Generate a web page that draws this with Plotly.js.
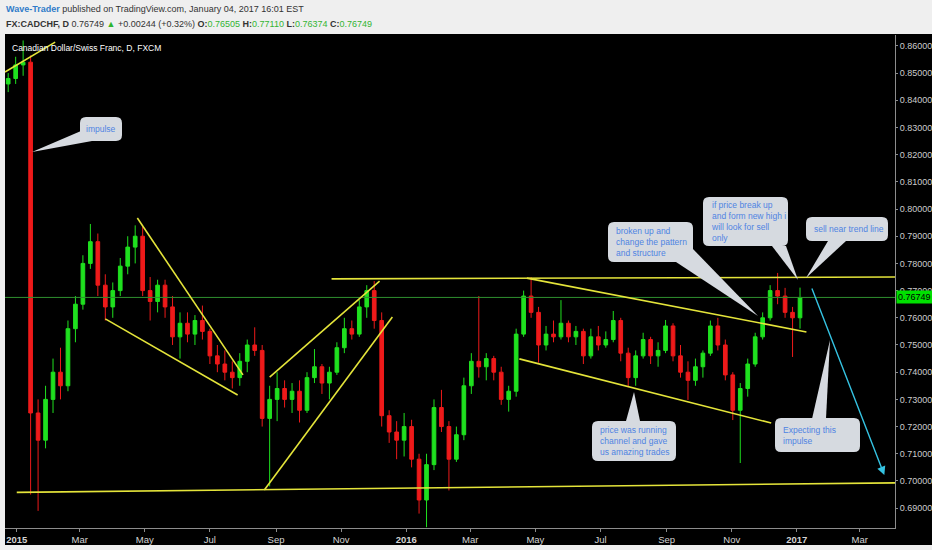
<!DOCTYPE html>
<html>
<head>
<meta charset="utf-8">
<script src="https://cdn.plot.ly/plotly-3.0.1.min.js"></script>
<style>html,body{margin:0;padding:0;background:#efefef;}#chart{width:932px;height:550px;}</style>
</head>
<body>
<div id="chart"></div>
<script>
// ---- Data (weekly OHLC, CADCHF daily chart) ----
const dates = ["2014-12-24","2014-12-31","2015-01-07","2015-01-14","2015-01-21","2015-01-28","2015-02-04","2015-02-11","2015-02-18","2015-02-25","2015-03-04","2015-03-11","2015-03-18","2015-03-25","2015-04-01","2015-04-08","2015-04-15","2015-04-22","2015-04-29","2015-05-06","2015-05-13","2015-05-20","2015-05-27","2015-06-03","2015-06-10","2015-06-17","2015-06-24","2015-07-01","2015-07-08","2015-07-15","2015-07-22","2015-07-29","2015-08-05","2015-08-12","2015-08-19","2015-08-26","2015-09-02","2015-09-09","2015-09-16","2015-09-23","2015-09-30","2015-10-07","2015-10-14","2015-10-21","2015-10-28","2015-11-04","2015-11-11","2015-11-18","2015-11-25","2015-12-02","2015-12-09","2015-12-16","2015-12-23","2015-12-30","2016-01-06","2016-01-13","2016-01-20","2016-01-27","2016-02-03","2016-02-10","2016-02-17","2016-02-24","2016-03-02","2016-03-09","2016-03-16","2016-03-23","2016-03-30","2016-04-06","2016-04-13","2016-04-20","2016-04-27","2016-05-04","2016-05-11","2016-05-18","2016-05-25","2016-06-01","2016-06-08","2016-06-15","2016-06-22","2016-06-29","2016-07-06","2016-07-13","2016-07-20","2016-07-27","2016-08-03","2016-08-10","2016-08-17","2016-08-24","2016-08-31","2016-09-07","2016-09-14","2016-09-21","2016-09-28","2016-10-05","2016-10-12","2016-10-19","2016-10-26","2016-11-02","2016-11-09","2016-11-16","2016-11-23","2016-11-30","2016-12-07","2016-12-14","2016-12-21","2016-12-28","2017-01-04"];
const open  = [0.8460,0.8480,0.8530,0.8540,0.7250,0.7150,0.7300,0.7400,0.7350,0.7560,0.7650,0.7800,0.7880,0.7720,0.7640,0.7700,0.7790,0.7860,0.7900,0.7700,0.7660,0.7720,0.7640,0.7530,0.7580,0.7540,0.7590,0.7550,0.7460,0.7430,0.7400,0.7380,0.7440,0.7500,0.7480,0.7230,0.7300,0.7340,0.7300,0.7330,0.7260,0.7380,0.7420,0.7360,0.7400,0.7490,0.7560,0.7540,0.7640,0.7700,0.7590,0.7240,0.7180,0.7150,0.7200,0.7080,0.6930,0.7060,0.7270,0.7200,0.7080,0.7170,0.7350,0.7440,0.7420,0.7450,0.7400,0.7300,0.7330,0.7540,0.7680,0.7620,0.7500,0.7540,0.7530,0.7580,0.7530,0.7550,0.7460,0.7530,0.7500,0.7520,0.7590,0.7470,0.7380,0.7460,0.7520,0.7460,0.7480,0.7570,0.7460,0.7400,0.7370,0.7420,0.7470,0.7570,0.7500,0.7390,0.7260,0.7340,0.7430,0.7530,0.7600,0.7700,0.7680,0.7620,0.7600];
const high  = [0.8500,0.8560,0.8620,0.8565,0.7300,0.7350,0.7450,0.7490,0.7590,0.7680,0.7830,0.7945,0.7910,0.7760,0.7730,0.7820,0.7900,0.7940,0.7935,0.7750,0.7740,0.7740,0.7680,0.7620,0.7620,0.7610,0.7645,0.7560,0.7500,0.7480,0.7440,0.7470,0.7520,0.7565,0.7500,0.7350,0.7400,0.7370,0.7360,0.7370,0.7400,0.7485,0.7430,0.7420,0.7510,0.7600,0.7590,0.7665,0.7720,0.7735,0.7620,0.7260,0.7220,0.7250,0.7225,0.7100,0.7100,0.7300,0.7335,0.7220,0.7200,0.7380,0.7470,0.7680,0.7470,0.7460,0.7420,0.7350,0.7560,0.7700,0.7750,0.7640,0.7570,0.7590,0.7665,0.7590,0.7570,0.7560,0.7560,0.7570,0.7550,0.7625,0.7600,0.7490,0.7480,0.7545,0.7530,0.7510,0.7592,0.7580,0.7500,0.7440,0.7450,0.7480,0.7590,0.7600,0.7520,0.7400,0.7360,0.7450,0.7545,0.7620,0.7720,0.7765,0.7710,0.7640,0.7711];
const low   = [0.8430,0.8460,0.8490,0.6950,0.6890,0.7120,0.7250,0.7300,0.7330,0.7510,0.7630,0.7780,0.7680,0.7590,0.7600,0.7680,0.7760,0.7800,0.7680,0.7590,0.7620,0.7600,0.7500,0.7450,0.7510,0.7500,0.7520,0.7430,0.7400,0.7370,0.7340,0.7350,0.7400,0.7460,0.7200,0.6980,0.7220,0.7270,0.7250,0.7215,0.7250,0.7360,0.7320,0.7300,0.7390,0.7470,0.7520,0.7530,0.7600,0.7560,0.7200,0.7140,0.7080,0.7090,0.7050,0.6880,0.6830,0.7040,0.7180,0.6965,0.7070,0.7150,0.7320,0.7380,0.7370,0.7370,0.7280,0.7255,0.7310,0.7530,0.7600,0.7435,0.7480,0.7510,0.7520,0.7510,0.7500,0.7430,0.7450,0.7480,0.7490,0.7510,0.7440,0.7345,0.7350,0.7450,0.7430,0.7420,0.7470,0.7440,0.7380,0.7298,0.7350,0.7380,0.7460,0.7480,0.7370,0.7224,0.7066,0.7310,0.7420,0.7520,0.7590,0.7650,0.7600,0.7456,0.7560];
const close = [0.8480,0.8530,0.8540,0.7250,0.7150,0.7300,0.7400,0.7350,0.7560,0.7650,0.7800,0.7880,0.7720,0.7640,0.7700,0.7790,0.7860,0.7900,0.7700,0.7660,0.7720,0.7640,0.7530,0.7580,0.7540,0.7590,0.7550,0.7460,0.7430,0.7400,0.7380,0.7440,0.7500,0.7480,0.7230,0.7300,0.7340,0.7300,0.7330,0.7260,0.7380,0.7420,0.7360,0.7400,0.7490,0.7560,0.7540,0.7640,0.7700,0.7590,0.7240,0.7180,0.7150,0.7200,0.7080,0.6930,0.7060,0.7270,0.7200,0.7080,0.7170,0.7350,0.7440,0.7420,0.7450,0.7400,0.7300,0.7330,0.7540,0.7680,0.7620,0.7500,0.7540,0.7530,0.7580,0.7530,0.7550,0.7460,0.7530,0.7500,0.7520,0.7590,0.7470,0.7380,0.7460,0.7520,0.7460,0.7480,0.7570,0.7460,0.7400,0.7370,0.7420,0.7470,0.7570,0.7500,0.7390,0.7260,0.7340,0.7430,0.7530,0.7600,0.7700,0.7680,0.7620,0.7600,0.76749];
const lastPrice = 0.76749;

// Tick labels
const xTickVals = ["2015-01-01","2015-03-01","2015-05-01","2015-07-01","2015-09-01","2015-11-01","2016-01-01","2016-03-01","2016-05-01","2016-07-01","2016-09-01","2016-11-01","2017-01-01","2017-03-01"];
const xTickText = ["<b>2015</b>","Mar","May","Jul","Sep","Nov","<b>2016</b>","Mar","May","Jul","Sep","Nov","<b>2017</b>","Mar"];

// Analyst trend lines [date0, price0, date1, price1]
const trendLines = [
  ["2014-12-21",0.8504,"2015-02-06",0.8614],
  ["2015-01-01",0.6958,"2017-04-03",0.6993],
  ["2015-04-24",0.7967,"2015-08-01",0.7390],
  ["2015-03-25",0.7596,"2015-07-27",0.7316],
  ["2015-08-26",0.7382,"2015-12-07",0.7735],
  ["2015-08-21",0.6967,"2015-12-19",0.7603],
  ["2015-10-23",0.7743,"2017-04-03",0.7750],
  ["2016-04-23",0.7746,"2017-01-10",0.7548],
  ["2016-04-16",0.7449,"2016-12-08",0.7213]
];

// ---- Layout helpers (pixel -> paper) ----
const L=5, W=890, T=35, H=493;
const px = x => +((x-L)/W).toFixed(5);
const py = y => +((T+H-y)/H).toFixed(5);

const bubbles = [
  {box:[80,117,122,141], tail:[[81,131],[92,141],[32,152]], text:"impulse", tx:101, center:true},
  {box:[608,222,693,262], tail:[[676,262],[693,249],[758,316]], text:"broken up and<br>change the pattern<br>and structure", tx:614},
  {box:[703,197,788,246], tail:[[772,246],[786,246],[798,280]], text:"if price break up<br>and form new high i<br>will look for sell<br>only", tx:709},
  {box:[806,217,888,241], tail:[[828,241],[846,241],[806,278]], text:"sell near trend line", tx:812},
  {box:[592,421,676,461], tail:[[626,421],[640,421],[634,392]], text:"price was running<br>channel and gave<br>us amazing trades", tx:598},
  {box:[775,418,860,452], tail:[[812,419],[826,419],[830,340]], text:"Expecting this<br>impulse", tx:781}
];

function roundRect(b, r){
  const [x0,y0,x1,y1]=b;
  const P=(x,y)=>px(x)+','+py(y);
  return 'M'+P(x0+r,y0)+' L'+P(x1-r,y0)+' Q'+P(x1,y0)+' '+P(x1,y0+r)+
    ' L'+P(x1,y1-r)+' Q'+P(x1,y1)+' '+P(x1-r,y1)+' L'+P(x0+r,y1)+
    ' Q'+P(x0,y1)+' '+P(x0,y1-r)+' L'+P(x0,y0+r)+' Q'+P(x0,y0)+' '+P(x0+r,y0)+' Z';
}
function tri(t){
  const P=(p)=>px(p[0])+','+py(p[1]);
  return 'M'+P(t[0])+' L'+P(t[2])+' L'+P(t[1])+' Z';
}

const bubbleFill = '#d6dae0';
const bubbleText = '#4f84e2';
const yellow = '#e4e43a';
const sans = 'Liberation Sans, Arial, sans-serif';

const shapes = [];
// black chart panel (plot + axis label area)
shapes.push({type:'rect', xref:'paper', yref:'paper', x0:px(5), x1:px(932), y0:py(545), y1:py(34),
  fillcolor:'#000000', line:{width:0}, layer:'below'});
// last price line
shapes.push({type:'line', xref:'paper', yref:'y', x0:0, x1:1, y0:lastPrice, y1:lastPrice,
  line:{color:'#2f8f2f', width:1}});
// trend lines
trendLines.forEach(t=>shapes.push({type:'line', xref:'x', yref:'y', x0:t[0], y0:t[1], x1:t[2], y1:t[3],
  line:{color:yellow, width:1.6}}));
// bubbles
bubbles.forEach(b=>{
  shapes.push({type:'path', xref:'paper', yref:'paper', path:tri(b.tail), fillcolor:bubbleFill, line:{width:0}});
  shapes.push({type:'path', xref:'paper', yref:'paper', path:roundRect(b.box,6), fillcolor:bubbleFill, line:{width:0}});
});

const annotations = [];
// header
annotations.push({xref:'paper', yref:'paper', x:px(4), y:py(9), xanchor:'left', yanchor:'middle', showarrow:false,
  text:'<b><span style="color:#2f7cc9">Wave-Trader</span></b> published on TradingView.com, January 04, 2017 16:01 EST',
  font:{family:sans, size:9, color:'#333333'}});
annotations.push({xref:'paper', yref:'paper', x:px(4), y:py(24), xanchor:'left', yanchor:'middle', showarrow:false,
  text:'<b>FX:CADCHF, D</b> 0.76749 <span style="color:#2fb52f">▲</span> +0.00244 (+0.32%) <b>O:</b><span style="color:#33b533">0.76505</span> <b>H:</b><span style="color:#33b533">0.77110</span> <b>L:</b><span style="color:#33b533">0.76374</span> <b>C:</b><span style="color:#33b533">0.76749</span>',
  font:{family:sans, size:9, color:'#333333'}});
// chart title
annotations.push({xref:'paper', yref:'paper', x:px(10), y:py(48), xanchor:'left', yanchor:'middle', showarrow:false,
  text:'Canadian Dollar/Swiss Franc, D, FXCM',
  font:{family:sans, size:8.5, color:'#ffffff'}});
// last price label
annotations.push({xref:'paper', yref:'y', x:1, y:lastPrice, xanchor:'left', yanchor:'middle', showarrow:false,
  text:'0.76749', bgcolor:'#00e000', borderpad:1, xshift:1,
  font:{family:sans, size:9, color:'#000000'}});
// cyan arrow
annotations.push({xref:'x', yref:'y', x:'2017-03-24', y:0.7022, ax:-73, ay:-188, showarrow:true, text:'',
  arrowcolor:'#35c3e2', arrowwidth:1.4, arrowhead:2, arrowsize:1.2});
// bubble texts
bubbles.forEach(b=>{
  annotations.push({xref:'paper', yref:'paper', x:px(b.tx), y:py((b.box[1]+b.box[3])/2), xanchor:b.center?'center':'left',
    yanchor:'middle', align:'left', showarrow:false, text:b.text,
    font:{family:sans, size:8.5, color:bubbleText}});
});

const trace = {
  type:'candlestick', x:dates, open:open, high:high, low:low, close:close,
  increasing:{line:{color:'#1fe01f', width:1}, fillcolor:'#1fe01f'},
  decreasing:{line:{color:'#ee1a1a', width:1}, fillcolor:'#ee1a1a'},
  whiskerwidth:0, hoverinfo:'skip'
};

const layout = {
  width:932, height:550,
  margin:{l:L, r:932-L-W, t:T, b:550-T-H, pad:0},
  paper_bgcolor:'#efefef', plot_bgcolor:'#000000',
  showlegend:false, hovermode:false,
  xaxis:{type:'date', range:['2014-12-21','2017-04-03'], tickvals:xTickVals, ticktext:xTickText,
    tickfont:{family:sans, size:9.5, color:'#d4d4d4'},
    showgrid:false, zeroline:false, showline:true, linecolor:'#8c8c8c', linewidth:1,
    ticks:'outside', ticklen:3, tickcolor:'#8c8c8c', rangeslider:{visible:false}, fixedrange:true},
  yaxis:{side:'right', range:[0.6827,0.8640], tick0:0.69, dtick:0.01, tickformat:'.5f',
    tickfont:{family:sans, size:9, color:'#cccccc'},
    showgrid:false, zeroline:false, showline:true, linecolor:'#8c8c8c', linewidth:1,
    ticks:'outside', ticklen:2, tickcolor:'#8c8c8c', fixedrange:true},
  shapes:shapes, annotations:annotations
};

Plotly.newPlot('chart', [trace], layout, {staticPlot:true, displayModeBar:false});
</script>
</body>
</html>
